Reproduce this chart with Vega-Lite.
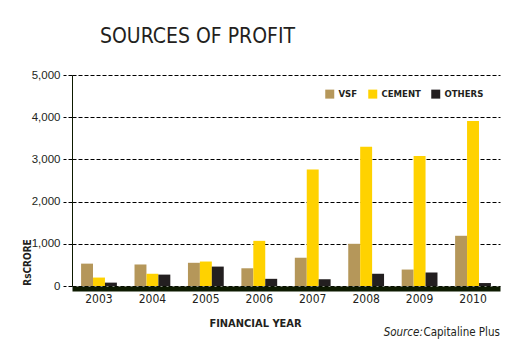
{
  "$schema": "https://vega.github.io/schema/vega-lite/v6.json",
  "width": 428,
  "height": 211,
  "autosize": {"type": "none"},
  "padding": {"left": 72, "top": 75, "right": 25, "bottom": 70},
  "background": "white",
  "title": {
    "text": "SOURCES OF PROFIT",
    "anchor": "start",
    "frame": "group",
    "dx": 28,
    "offset": 5,
    "baseline": "alphabetic",
    "font": "DejaVu Sans Condensed",
    "fontSize": 21,
    "fontWeight": "normal",
    "color": "#231f20"
  },
  "config": {"view": {"stroke": null}, "font": "DejaVu Sans Condensed"},
  "layer": [
    {
      "data": {
        "values": [
          {"year": "2003", "series": "VSF", "value": 530},
          {"year": "2003", "series": "CEMENT", "value": 200},
          {"year": "2003", "series": "OTHERS", "value": 80},
          {"year": "2004", "series": "VSF", "value": 510},
          {"year": "2004", "series": "CEMENT", "value": 290},
          {"year": "2004", "series": "OTHERS", "value": 270},
          {"year": "2005", "series": "VSF", "value": 550},
          {"year": "2005", "series": "CEMENT", "value": 580},
          {"year": "2005", "series": "OTHERS", "value": 460},
          {"year": "2006", "series": "VSF", "value": 420},
          {"year": "2006", "series": "CEMENT", "value": 1070},
          {"year": "2006", "series": "OTHERS", "value": 170},
          {"year": "2007", "series": "VSF", "value": 670},
          {"year": "2007", "series": "CEMENT", "value": 2760},
          {"year": "2007", "series": "OTHERS", "value": 160},
          {"year": "2008", "series": "VSF", "value": 1000},
          {"year": "2008", "series": "CEMENT", "value": 3300},
          {"year": "2008", "series": "OTHERS", "value": 290},
          {"year": "2009", "series": "VSF", "value": 390},
          {"year": "2009", "series": "CEMENT", "value": 3080},
          {"year": "2009", "series": "OTHERS", "value": 320},
          {"year": "2010", "series": "VSF", "value": 1190},
          {"year": "2010", "series": "CEMENT", "value": 3910},
          {"year": "2010", "series": "OTHERS", "value": 70}
        ]
      },
      "mark": {"type": "bar"},
      "encoding": {
        "x": {
          "field": "year",
          "type": "nominal",
          "scale": {"paddingInner": 0.33, "paddingOuter": 0.17},
          "axis": {
            "title": "FINANCIAL YEAR",
            "titleX": 183,
            "titleY": 37.5,
            "titleAlign": "center",
            "titleBaseline": "alphabetic",
            "titleFont": "DejaVu Sans Condensed",
            "titleFontSize": 11,
            "titleFontWeight": "bold",
            "titleColor": "#231f20",
            "labelAngle": 0,
            "labelFont": "DejaVu Sans Condensed",
            "labelFontSize": 12,
            "labelColor": "#231f20",
            "labelPadding": 5,
            "ticks": false,
            "domainColor": "#0d1a00",
            "domainWidth": 5,
            "offset": 2.5,
            "grid": false
          }
        },
        "xOffset": {
          "field": "series",
          "type": "nominal",
          "scale": {"domain": ["VSF", "CEMENT", "OTHERS"], "padding": 0}
        },
        "y": {
          "field": "value",
          "type": "quantitative",
          "scale": {"domain": [0, 5000], "nice": false},
          "axis": {
            "values": [0, 1000, 2000, 3000, 4000, 5000],
            "format": ",d",
            "title": "RsCRORE",
            "titleAngle": -90,
            "titleX": -42,
            "titleY": 187,
            "titleAlign": "center",
            "titleBaseline": "alphabetic",
            "titleFont": "DejaVu Sans Condensed",
            "titleFontSize": 10,
            "titleFontWeight": "bold",
            "titleColor": "#231f20",
            "labelFont": "Liberation Sans",
            "labelFontSize": 11.5,
            "labelColor": "#231f20",
            "labelPadding": 3,
            "tickSize": 9,
            "tickColor": "#000000",
            "tickDash": [4, 2],
            "tickWidth": 1,
            "grid": true,
            "gridColor": "#000000",
            "gridDash": [4, 2],
            "gridWidth": 1,
            "gridOpacity": 1,
            "domainColor": "#0d1a00",
            "domainWidth": 1
          }
        },
        "color": {
          "field": "series",
          "type": "nominal",
          "scale": {"domain": ["VSF", "CEMENT", "OTHERS"], "range": ["#b5975a", "#ffd200", "#231f20"]},
          "legend": {
            "title": null,
            "orient": "none",
            "legendX": 253,
            "legendY": 14,
            "direction": "horizontal",
            "symbolType": "square",
            "symbolSize": 81,
            "symbolStrokeWidth": 0,
            "symbolOpacity": 1,
            "labelFont": "DejaVu Sans Condensed",
            "labelFontSize": 9.5,
            "labelFontWeight": "bold",
            "labelColor": "#231f20",
            "labelOffset": 4,
            "columnPadding": 10
          }
        }
      }
    },
    {
      "data": {"values": [{"t": "Capitaline Plus"}]},
      "mark": {"type": "text", "align": "right", "baseline": "alphabetic", "dx": 9, "fontSize": 11.5, "font": "DejaVu Sans Condensed", "color": "#231f20"},
      "encoding": {
        "x": {"datum": "2010", "bandPosition": 1},
        "y": {"datum": -1180, "type": "quantitative", "scale": {"domain": [0, 5000], "nice": false}},
        "text": {"field": "t"}
      }
    },
    {
      "data": {"values": [{"t": "Source:"}]},
      "mark": {"type": "text", "align": "right", "baseline": "alphabetic", "dx": -68, "fontSize": 11.5, "fontStyle": "italic", "font": "DejaVu Sans Condensed", "color": "#231f20"},
      "encoding": {
        "x": {"datum": "2010", "bandPosition": 1},
        "y": {"datum": -1180, "type": "quantitative", "scale": {"domain": [0, 5000], "nice": false}},
        "text": {"field": "t"}
      }
    }
  ]
}
